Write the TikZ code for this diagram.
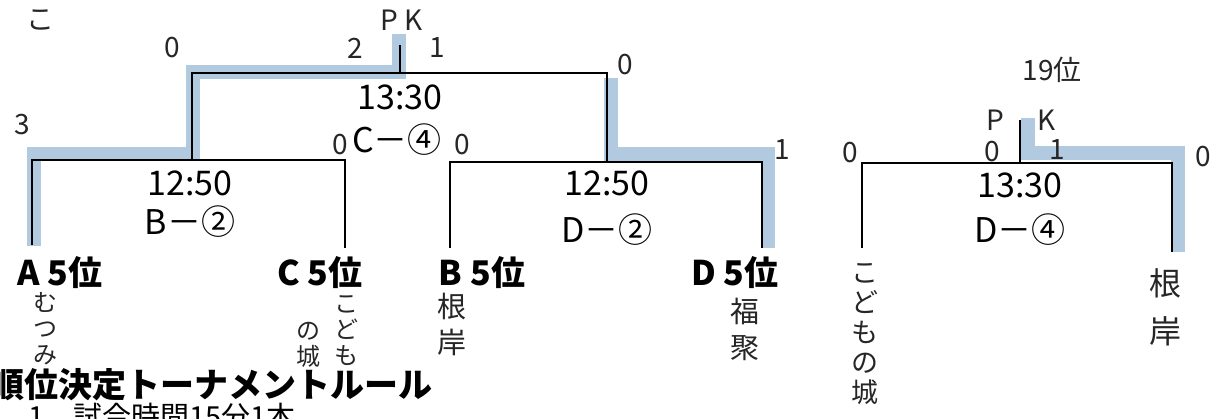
\documentclass[tikz,border=0pt]{standalone}
\usepackage{fontspec}
\setmainfont{Noto Sans CJK JP}
\newfontfamily\jpfont{Noto Sans CJK JP}
\definecolor{hlblue}{RGB}{164,193,218}
\tikzset{
  bline/.style={black, line width=2.2pt},
  hl/.style={draw=hlblue, line width=14pt, opacity=0.85, line join=miter, line cap=butt},
  printed/.style={font=\jpfont\fontsize{34}{36}\selectfont, inner sep=0pt},
  seed/.style={font=\jpfont\bfseries\fontsize{34}{36}\selectfont, inner sep=0pt},
  hand/.style={font=\jpfont\fontsize{28}{30}\selectfont, inner sep=0pt, text=black!85},
  vhand/.style={font=\jpfont\fontsize{24}{26}\selectfont, inner sep=0pt, align=center, text=black!85},
  title/.style={font=\jpfont\bfseries\fontsize{34}{36}\selectfont, inner sep=0pt},
}
\begin{document}
\begin{tikzpicture}[x=1pt,y=-1pt]
\useasboundingbox (0,0) rectangle (1210,418);
\fill[white] (0,0) rectangle (1210,418);
% highlighter marks
\draw[hl] (34,246) -- (34,154) -- (193,154) -- (193,72) -- (399,72) -- (399,34);
\draw[hl] (611,78) -- (611,154) -- (768,154) -- (768,248);
\draw[hl] (1028,118) -- (1028,153) -- (1178,153) -- (1178,252);
% bracket coordinates
\coordinate (A) at (32,245);
\coordinate (C) at (345,248);
\coordinate (B) at (450,248);
\coordinate (D) at (762,248);
\coordinate (m1) at (192,160);
\coordinate (m2) at (607,162);
\coordinate (f) at (400,73);
\coordinate (fk) at (400,45);
\coordinate (E) at (862,248);
\coordinate (G) at (1172,252);
\coordinate (h) at (1020,163);
\coordinate (hk) at (1020,120);
% bracket lines
\draw[bline] (A) |- (m1) -| (C);
\draw[bline] (B) |- (m2) -| (D);
\draw[bline] (m1) |- (f) -| (m2);
\draw[bline] (f) -- (fk);
\draw[bline] (E) |- (h) -| (G);
\draw[bline] (h) -- (hk);
% printed texts
\node[printed] (t1) at (400,97) {13:30};
\node[printed] (c4) at (397,140) {C－④};
\node[printed] (t2) at (190,183) {12:50};
\node[printed] (b2) at (190,222) {B－②};
\node[printed] (t3) at (607,183) {12:50};
\node[printed] (d2) at (607,230) {D－②};
\node[printed] (t4) at (1020,185) {13:30};
\node[printed] (d4) at (1020,230) {D－④};
\node[seed] (sA) at (60,273) {A 5位};
\node[seed] (sC) at (320,273) {C 5位};
\node[seed] (sB) at (482,273) {B 5位};
\node[seed] (sD) at (735,273) {D 5位};
\node[title, anchor=east] (ttl) at (433,385) {順位決定トーナメントルール};
\node[printed, anchor=north west, font=\jpfont\fontsize{29}{31}\selectfont] (rule1) at (28,403) {1　試合時間15分1本};
% handwritten annotations
\node[hand] (h1) at (40,20) {こ};
\node[hand] (pk1) at (402,20) {P K};
\node[hand] (s1) at (172,48) {0};
\node[hand] (s2) at (355,48) {2};
\node[hand] (s3) at (437,48) {1};
\node[hand] (s4) at (625,65) {0};
\node[hand] (s5) at (22,125) {3};
\node[hand] (s6) at (340,145) {0};
\node[hand] (s7) at (462,145) {0};
\node[hand] (s8) at (782,150) {1};
\node[hand] (r19) at (1052,70) {19位};
\node[hand] (pP) at (995,120) {P};
\node[hand] (pK) at (1047,120) {K};
\node[hand] (s9) at (850,153) {0};
\node[hand] (s10) at (992,152) {0};
\node[hand] (s11) at (1057,150) {1};
\node[hand] (s12) at (1203,157) {0};
\node[vhand, anchor=north] (nA) at (45,292) {む\\つ\\み};
\node[vhand, anchor=north] (nC1) at (346,295) {こ\\ど\\も};
\node[vhand, anchor=north] (nC2) at (308,322) {の\\城};
\node[vhand, anchor=north, font=\jpfont\fontsize{29}{36}\selectfont] (nB) at (452,293) {根\\岸};
\node[vhand, anchor=north, font=\jpfont\fontsize{29}{36}\selectfont] (nD) at (745,298) {福\\聚};
\node[vhand, anchor=north, font=\jpfont\fontsize{27}{30}\selectfont] (nE) at (865,263) {こ\\ど\\も\\の\\城};
\node[vhand, anchor=north, font=\jpfont\fontsize{32}{48}\selectfont] (nG) at (1165,268) {根\\岸};
\end{tikzpicture}
\end{document}
